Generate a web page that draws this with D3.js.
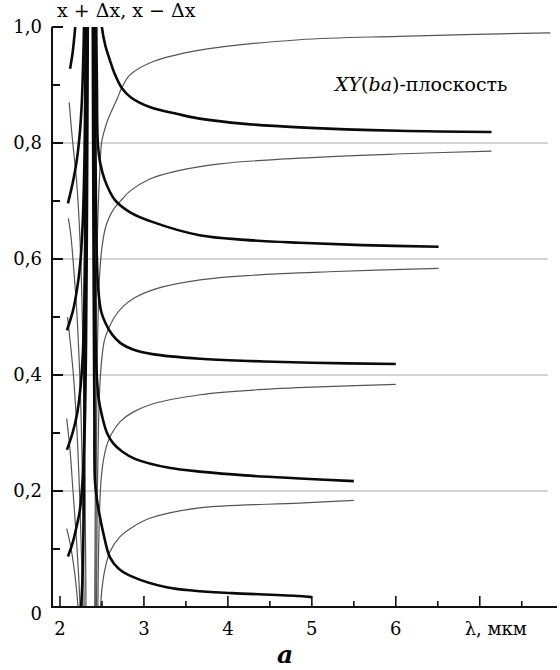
<!DOCTYPE html>
<html>
<head>
<meta charset="utf-8">
<script src="https://cdn.jsdelivr.net/npm/d3@7"></script>
<style>
body { margin: 0; background: #fff; }
</style>
</head>
<body>
<svg></svg>
<script>
let width = 560, height = 670;
let serif = "'DejaVu Serif', 'Liberation Serif', serif";

// ticks
let yMajor = [0, 0.2, 0.4, 0.6, 0.8, 1.0];
let yMajorLabels = ["0", "0,2", "0,4", "0,6", "0,8", "1,0"];
let yMinor = [0.1, 0.3, 0.5, 0.7, 0.9];
let yGrid = [0.2, 0.4, 0.6, 0.8];
let xMajor = [2, 3, 4, 5, 6, 7];
let xMajorLabels = ["2", "3", "4", "5", "6", "λ, мкм"];
let xMinor = [2.5, 3.5, 4.5, 5.5, 6.5, 7.5];

// thick right branches (x + Δx), [λ, value]
let thickR0 = [[2.39,1.03],[2.395,0.8],[2.4,0.6],[2.405,0.45],[2.41,0.33],[2.416,0.219],[2.44,0.185],[2.467,0.162],[2.52,0.125],[2.594,0.086],[2.7,0.066],[2.867,0.052],[3.27,0.034],[3.6,0.028],[4.05,0.024],[4.85,0.019],[5.0,0.017]];
let thickR1 = [[2.40,1.03],[2.405,0.8],[2.412,0.6],[2.422,0.48],[2.435,0.41],[2.46,0.36],[2.5,0.33],[2.56,0.3],[2.63,0.283],[2.74,0.268],[2.9,0.255],[3.3,0.24],[3.7,0.233],[4.2,0.227],[4.8,0.222],[5.5,0.217]];
let thickR2 = [[2.415,1.03],[2.42,0.85],[2.428,0.7],[2.44,0.6],[2.455,0.55],[2.49,0.51],[2.54,0.49],[2.62,0.47],[2.72,0.455],[2.87,0.444],[3.1,0.436],[3.67,0.428],[4.3,0.424],[5.0,0.421],[6.0,0.419]];
let thickR3 = [[2.43,1.03],[2.44,0.9],[2.451,0.8],[2.48,0.765],[2.534,0.736],[2.653,0.702],[2.831,0.681],[3.1,0.664],[3.663,0.641],[4.2,0.633],[4.85,0.628],[5.6,0.624],[6.51,0.621]];
let thickR4 = [[2.485,1.03],[2.499,1.0],[2.54,0.968],[2.594,0.943],[2.65,0.92],[2.736,0.895],[2.85,0.878],[3.069,0.862],[3.4,0.85],[3.663,0.842],[4.2,0.833],[4.85,0.827],[6.04,0.821],[7.14,0.819]];

// thin right branches (x - Δx)
let thinR0 = [[2.476,-0.01],[2.488,0.01],[2.499,0.03],[2.534,0.064],[2.594,0.095],[2.713,0.121],[2.867,0.138],[3.07,0.153],[3.663,0.171],[4.85,0.179],[5.5,0.184]];
let thinR1 = [[2.45,-0.02],[2.46,0.1],[2.475,0.18],[2.49,0.22],[2.52,0.255],[2.56,0.28],[2.62,0.3],[2.72,0.32],[2.87,0.336],[3.1,0.35],[3.67,0.366],[4.3,0.374],[5.0,0.379],[6.0,0.384]];
let thinR2 = [[2.435,-0.02],[2.445,0.2],[2.46,0.32],[2.478,0.39],[2.5,0.43],[2.53,0.46],[2.58,0.48],[2.65,0.5],[2.75,0.518],[2.9,0.534],[3.15,0.549],[3.67,0.564],[4.3,0.572],[5.2,0.578],[6.51,0.584]];
let thinR3 = [[2.425,-0.02],[2.435,0.3],[2.447,0.45],[2.462,0.54],[2.48,0.59],[2.5,0.62],[2.535,0.65],[2.58,0.67],[2.65,0.688],[2.74,0.703],[2.833,0.717],[3.07,0.738],[3.4,0.752],[3.9,0.764],[4.86,0.774],[6.0,0.781],[7.14,0.786]];
let thinR4 = [[2.413,-0.03],[2.43,0.44],[2.44,0.6],[2.458,0.7],[2.476,0.755],[2.495,0.8],[2.53,0.822],[2.57,0.84],[2.689,0.879],[2.736,0.895],[2.831,0.917],[3.069,0.938],[3.663,0.96],[4.85,0.978],[6.04,0.984],[7.84,0.99]];

// thick left branches
let thickLm = [[2.1,-0.1],[2.2,-0.05],[2.25,0.0],[2.27,0.06],[2.285,0.2],[2.295,0.45],[2.302,0.75],[2.307,1.03]];
let thickL0 = [[2.095,0.087],[2.15,0.11],[2.2,0.14],[2.238,0.168],[2.27,0.22],[2.295,0.31],[2.31,0.45],[2.32,0.65],[2.327,0.85],[2.332,1.03]];
let thickL1 = [[2.083,0.271],[2.15,0.3],[2.2,0.33],[2.238,0.369],[2.27,0.43],[2.29,0.52],[2.305,0.65],[2.315,0.82],[2.32,1.03]];
let thickL2 = [[2.083,0.477],[2.155,0.511],[2.2,0.545],[2.24,0.59],[2.27,0.66],[2.29,0.76],[2.3,0.87],[2.31,1.03]];
let thickL3 = [[2.095,0.696],[2.15,0.73],[2.2,0.77],[2.238,0.82],[2.26,0.87],[2.28,0.96],[2.29,1.03]];
let thickL4 = [[2.12,0.928],[2.15,0.955],[2.18,0.997],[2.2,1.03]];

// thin left branches
let thinL0 = [[2.08,0.135],[2.12,0.11],[2.16,0.075],[2.19,0.04],[2.215,0.0],[2.23,-0.03]];
let thinL1 = [[2.08,0.325],[2.12,0.27],[2.155,0.2],[2.19,0.13],[2.22,0.06],[2.24,0.0],[2.25,-0.03]];
let thinL2 = [[2.09,0.5],[2.12,0.46],[2.16,0.4],[2.2,0.31],[2.23,0.21],[2.25,0.12],[2.265,0.04],[2.275,-0.02]];
let thinL3 = [[2.1,0.67],[2.13,0.64],[2.16,0.59],[2.2,0.51],[2.23,0.42],[2.255,0.31],[2.27,0.2],[2.28,0.1],[2.288,0.0],[2.292,-0.05]];
let thinL4 = [[2.11,0.87],[2.139,0.82],[2.17,0.775],[2.198,0.734],[2.23,0.66],[2.26,0.54],[2.28,0.4],[2.295,0.25],[2.305,0.1],[2.31,0.0],[2.314,-0.05]];

let thickCurves = [thickR0, thickR1, thickR2, thickR3, thickR4, thickLm, thickL0, thickL1, thickL2, thickL3, thickL4];
let thinCurves = [thinR0, thinR1, thinR2, thinR3, thinR4, thinL0, thinL1, thinL2, thinL3, thinL4];

let svg = d3.select("svg")
    .attr("width", width)
    .attr("height", height);

let x = d3.scaleLinear().domain([1.905, 7.92]).range([52, 557]);
let y = d3.scaleLinear().domain([0, 1]).range([607, 27]);

svg.append("defs").append("clipPath")
    .attr("id", "plot")
    .append("rect")
    .attr("x", x.range()[0])
    .attr("y", y(1))
    .attr("width", x.range()[1] - x.range()[0])
    .attr("height", y(0) - y(1));

// grid lines
svg.append("g")
    .selectAll("line")
    .data(yGrid)
    .enter()
    .append("line")
    .attr("x1", x(1.905))
    .attr("x2", x(7.81))
    .attr("y1", d => y(d))
    .attr("y2", d => y(d))
    .attr("stroke", "#a8a8a8")
    .attr("stroke-width", 1.2);

let line = d3.line()
    .x(d => x(d[0]))
    .y(d => y(d[1]))
    .curve(d3.curveCatmullRom.alpha(0.5));

let curves = svg.append("g").attr("clip-path", "url(#plot)");

curves.selectAll(".thin")
    .data(thinCurves)
    .enter()
    .append("path")
    .attr("class", "thin")
    .attr("d", line)
    .attr("fill", "none")
    .attr("stroke", "#555")
    .attr("stroke-width", 1.2);

curves.selectAll(".thick")
    .data(thickCurves)
    .enter()
    .append("path")
    .attr("class", "thick")
    .attr("d", line)
    .attr("fill", "none")
    .attr("stroke", "#0a0a0a")
    .attr("stroke-width", 2.6);

// axes
let axes = svg.append("g").attr("stroke", "#111");

axes.append("line")
    .attr("x1", x(1.905)).attr("x2", x(1.905))
    .attr("y1", y(1)).attr("y2", y(0))
    .attr("stroke-width", 2);

axes.append("line")
    .attr("x1", x(1.905) - 1).attr("x2", x(7.92))
    .attr("y1", y(0)).attr("y2", y(0))
    .attr("stroke-width", 2);

axes.selectAll(".ymaj")
    .data(yMajor.filter(d => d > 0))
    .enter()
    .append("line")
    .attr("x1", x(1.905)).attr("x2", x(1.905) + 11)
    .attr("y1", d => y(d)).attr("y2", d => y(d))
    .attr("stroke-width", 2);

axes.selectAll(".ymin")
    .data(yMinor)
    .enter()
    .append("line")
    .attr("x1", x(1.905)).attr("x2", x(1.905) + 8)
    .attr("y1", d => y(d)).attr("y2", d => y(d))
    .attr("stroke-width", 2);

axes.selectAll(".xmaj")
    .data(xMajor)
    .enter()
    .append("line")
    .attr("x1", d => x(d)).attr("x2", d => x(d))
    .attr("y1", y(0)).attr("y2", y(0) - 11)
    .attr("stroke-width", 1.6);

axes.selectAll(".xmin")
    .data(xMinor)
    .enter()
    .append("line")
    .attr("x1", d => x(d)).attr("x2", d => x(d))
    .attr("y1", y(0)).attr("y2", y(0) - 6)
    .attr("stroke-width", 1.6);

// labels
svg.append("g")
    .selectAll("text")
    .data(yMajor)
    .enter()
    .append("text")
    .attr("x", 42)
    .attr("y", d => y(d) + (d == 0 ? 13 : 6))
    .attr("text-anchor", "end")
    .style("font-family", serif)
    .style("font-size", "18px")
    .text((d, i) => yMajorLabels[i]);

svg.append("g")
    .selectAll("text")
    .data(xMajor)
    .enter()
    .append("text")
    .attr("x", (d, i) => i == xMajor.length - 1 ? x(d) + 16 : x(d))
    .attr("y", 635)
    .attr("text-anchor", "middle")
    .style("font-family", serif)
    .style("font-size", "18px")
    .text((d, i) => xMajorLabels[i]);

svg.append("text")
    .attr("x", 57)
    .attr("y", 17)
    .style("font-family", serif)
    .style("font-size", "19px")
    .text("x + Δx, x − Δx");

let plane = svg.append("text")
    .attr("x", 335)
    .attr("y", 91)
    .style("font-family", serif)
    .style("font-size", "19px");
plane.append("tspan").style("font-style", "italic").text("XY");
plane.append("tspan").text("(");
plane.append("tspan").style("font-style", "italic").text("ba");
plane.append("tspan").text(")-плоскость");

svg.append("text")
    .attr("x", 285)
    .attr("y", 663)
    .attr("text-anchor", "middle")
    .style("font-family", serif)
    .style("font-size", "25px")
    .style("font-style", "italic")
    .style("font-weight", "bold")
    .text("a");
</script>
</body>
</html>
